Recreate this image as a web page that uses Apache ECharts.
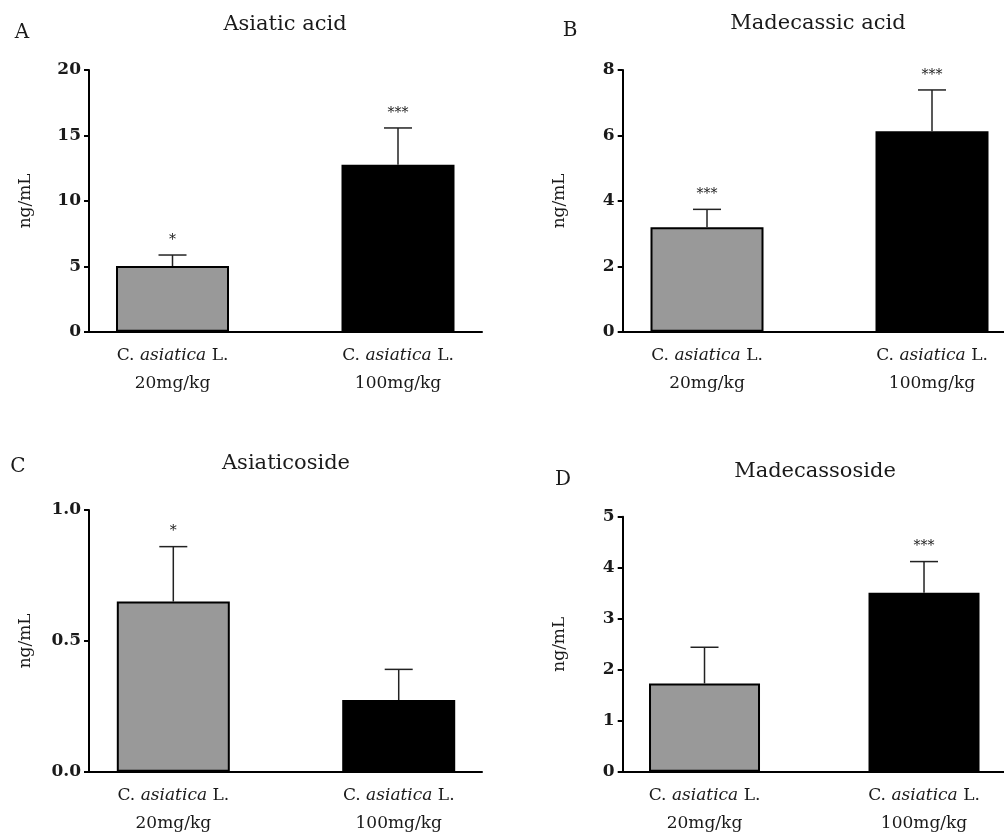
<!DOCTYPE html>
<html>
<head>
<meta charset="utf-8">
<script src="https://cdn.jsdelivr.net/npm/echarts@6/dist/echarts.min.js"></script>
<style>
  html, body { margin: 0; padding: 0; background: #ffffff; }
  #chart { width: 1004px; height: 835px; }
</style>
</head>
<body>
<div id="chart"></div>
<script>
// ---- data ----
const panelLetters = ['A', 'B', 'C', 'D'];
const panelTitles = ['Asiatic acid', 'Madecassic acid', 'Asiaticoside', 'Madecassoside'];
const speciesName = ['C. ', 'asiatica', ' L.'];
const doses = ['20mg/kg', '100mg/kg'];
const groupPositions = [1, 2];
const yAxisName = 'ng/mL';

const asiaticAcidMean = [5.02, 12.76];
const asiaticAcidErr = [0.84, 2.81];
const asiaticAcidStars = ['*', '***'];
const asiaticAcidTicks = [0, 5, 10, 15, 20];

const madecassicAcidMean = [3.19, 6.13];
const madecassicAcidErr = [0.55, 1.26];
const madecassicAcidStars = ['***', '***'];
const madecassicAcidTicks = [0, 2, 4, 6, 8];

const asiaticosideMean = [0.65, 0.274];
const asiaticosideErr = [0.21, 0.117];
const asiaticosideStars = ['*', ''];
const asiaticosideTicks = [0.0, 0.5, 1.0];

const madecassosideMean = [1.73, 3.51];
const madecassosideErr = [0.71, 0.61];
const madecassosideStars = ['', '***'];
const madecassosideTicks = [0, 1, 2, 3, 4, 5];

// ---- styles / layout ----
const FONT = 'DejaVu Serif';
const barColors = ['#999999', '#000000'];

const panels = [
  { mean: asiaticAcidMean, err: asiaticAcidErr, stars: asiaticAcidStars, ticks: asiaticAcidTicks, decimals: 0,
    grid: { left: 89, top: 70, width: 393, height: 261.7 }, xMin: 0.6297, xMax: 2.3725, barWidth: 113,
    letterPos: [22, 33], titlePos: [285, 25] },
  { mean: madecassicAcidMean, err: madecassicAcidErr, stars: madecassicAcidStars, ticks: madecassicAcidTicks, decimals: 0,
    grid: { left: 622.7, top: 70, width: 381.3, height: 261.7 }, xMin: 0.6253, xMax: 2.32, barWidth: 113,
    letterPos: [570, 31], titlePos: [818, 24] },
  { mean: asiaticosideMean, err: asiaticosideErr, stars: asiaticosideStars, ticks: asiaticosideTicks, decimals: 1,
    grid: { left: 89, top: 510, width: 393, height: 261.7 }, xMin: 0.626, xMax: 2.3695, barWidth: 113,
    letterPos: [18, 467], titlePos: [286, 464] },
  { mean: madecassosideMean, err: madecassosideErr, stars: madecassosideStars, ticks: madecassosideTicks, decimals: 0,
    grid: { left: 622.7, top: 516.7, width: 381.3, height: 255 }, xMin: 0.6273, xMax: 2.3644, barWidth: 111,
    letterPos: [563, 480], titlePos: [815, 472] }
];

const grids = [], xAxes = [], yAxes = [], series = [], graphics = [];

panels.forEach((p, i) => {
  grids.push(Object.assign({}, p.grid));
  xAxes.push({
    type: 'value', gridIndex: i, min: p.xMin, max: p.xMax,
    splitLine: { show: false },
    axisTick: { show: false },
    axisLine: { show: true, onZero: false, lineStyle: { color: '#000', width: 2 } },
    axisLabel: {
      customValues: groupPositions,
      margin: 10,
      formatter: (v) => {
        const k = groupPositions.indexOf(Math.round(v));
        return '{n|' + speciesName[0] + '}{i|' + speciesName[1] + '}{n|' + speciesName[2] + '}\n{n|' + doses[k] + '}';
      },
      rich: {
        n: { fontFamily: FONT, fontSize: 17, color: '#1a1a1a', lineHeight: 28 },
        i: { fontFamily: FONT, fontSize: 17, fontStyle: 'italic', color: '#1a1a1a', lineHeight: 28 }
      }
    }
  });
  const tk = p.ticks;
  yAxes.push({
    type: 'value', gridIndex: i,
    min: tk[0], max: tk[tk.length - 1], interval: tk[1] - tk[0],
    name: yAxisName, nameLocation: 'middle', nameRotate: 90, nameGap: 55,
    nameTextStyle: { fontFamily: FONT, fontSize: 17, color: '#1a1a1a' },
    splitLine: { show: false },
    axisLine: { show: true, lineStyle: { color: '#000', width: 2 } },
    axisTick: { show: true, length: 5, lineStyle: { color: '#000', width: 2 } },
    axisLabel: {
      fontFamily: FONT, fontSize: 17, fontWeight: 'bold', color: '#1a1a1a', margin: 8,
      formatter: (v) => v.toFixed(p.decimals)
    }
  });
  series.push({
    type: 'bar', xAxisIndex: i, yAxisIndex: i, barWidth: p.barWidth,
    data: p.mean.map((m, k) => ({
      value: [groupPositions[k], m],
      itemStyle: { color: barColors[k], borderColor: '#000', borderWidth: 2 }
    })),
    silent: true, z: 2
  });
  series.push({
    type: 'custom', xAxisIndex: i, yAxisIndex: i, z: 3, silent: true,
    data: p.mean.map((m, k) => [groupPositions[k], m, p.err[k]]),
    renderItem: (params, api) => {
      const x = api.value(0), v = api.value(1), e = api.value(2);
      const b = api.coord([x, v]);
      const t = api.coord([x, v + e]);
      const star = p.stars[params.dataIndex];
      const children = [
        { type: 'line', shape: { x1: b[0], y1: b[1], x2: t[0], y2: t[1] }, style: { stroke: '#222', lineWidth: 1.5 } },
        { type: 'line', shape: { x1: t[0] - 14, y1: t[1], x2: t[0] + 14, y2: t[1] }, style: { stroke: '#222', lineWidth: 1.5 } }
      ];
      if (star) {
        children.push({ type: 'text', x: t[0], y: t[1] - 8,
          style: { text: star, fontFamily: FONT, fontSize: 14, fill: '#222', align: 'center', verticalAlign: 'bottom' } });
      }
      return { type: 'group', children };
    }
  });
  graphics.push({ type: 'text', x: p.letterPos[0], y: p.letterPos[1],
    style: { text: panelLetters[i], fontFamily: FONT, fontSize: 20, fill: '#1a1a1a', align: 'center', verticalAlign: 'middle' } });
  graphics.push({ type: 'text', x: p.titlePos[0], y: p.titlePos[1],
    style: { text: panelTitles[i], fontFamily: FONT, fontSize: 21, fill: '#1a1a1a', align: 'center', verticalAlign: 'middle' } });
});

const chart = echarts.init(document.getElementById('chart'), null, { renderer: 'canvas' });
chart.setOption({
  animation: false,
  backgroundColor: '#ffffff',
  grid: grids, xAxis: xAxes, yAxis: yAxes, series: series, graphic: graphics
});
</script>
</body>
</html>
